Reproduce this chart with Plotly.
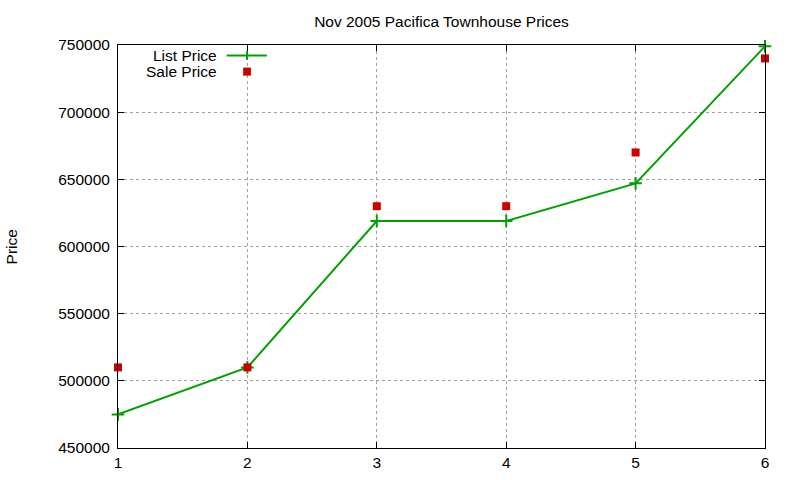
import plotly.graph_objects as go

# Pacifica townhouse sales, Nov 2005
listing = [1, 2, 3, 4, 5, 6]
list_price = [475000, 510000, 619000, 619000, 647000, 749000]
sale_price = [510000, 510000, 630000, 630000, 670000, 740000]

y_ticks = [450000, 500000, 550000, 600000, 650000, 700000, 750000]

GREEN = "#00a000"
RED = "#cc0000"
FONT = "Liberation Sans, Arial, sans-serif"
FS = 15.5

fig = go.Figure()
fig.add_trace(go.Scatter(
    x=listing, y=list_price, mode="lines+markers", name="List Price",
    line=dict(color=GREEN, width=2),
    marker=dict(symbol="cross-thin", size=9, line=dict(color=GREEN, width=2)),
    cliponaxis=False,
))
fig.add_trace(go.Scatter(
    x=listing, y=sale_price, mode="markers", name="Sale Price",
    marker=dict(symbol="square", size=8, color=RED),
    cliponaxis=False,
))

# gnuplot-style key: label right-aligned, sample to its right
for label, ky in [("List Price", 0.974), ("Sale Price", 0.934)]:
    fig.add_annotation(xref="paper", yref="paper", x=0.155, y=ky, text=label,
                       showarrow=False, xanchor="right", yanchor="middle",
                       height=15, borderpad=0,
                       font=dict(family=FONT, size=FS, color="#000"))
fig.add_shape(type="line", xref="paper", yref="paper", x0=0.168, x1=0.230,
              y0=0.974, y1=0.974, line=dict(color=GREEN, width=2))
fig.add_shape(type="line", xref="paper", yref="paper", x0=0.1995, x1=0.1995,
              y0=0.963, y1=0.985, line=dict(color=GREEN, width=2))
fig.add_shape(type="rect", xref="paper", yref="paper", x0=0.1935, x1=0.2055,
              y0=0.924, y1=0.944, line=dict(width=0), fillcolor=RED)

# y label sits far out at the left edge, like gnuplot puts it
fig.add_annotation(xref="paper", yref="paper", x=-0.164, y=0.5, text="Price",
                   textangle=-90, showarrow=False, xanchor="center", yanchor="middle",
                   font=dict(family=FONT, size=FS, color="#000"))

axis_common = dict(
    showline=True, linecolor="black", linewidth=1, mirror="ticks",
    ticks="inside", ticklen=6, tickcolor="black",
    showgrid=True, gridcolor="#a0a0a0", griddash="dot", gridwidth=1,
    zeroline=False, automargin=False,
    tickfont=dict(family=FONT, size=FS, color="#000"),
)

fig.update_xaxes(range=[1, 6], tickvals=listing, **axis_common)
fig.update_yaxes(range=[450000, 750000], tickvals=y_ticks, tickformat="d",
                 ticklabelstandoff=4, **axis_common)

fig.update_layout(
    width=800, height=480,
    paper_bgcolor="white", plot_bgcolor="white",
    margin=dict(l=118, r=35, t=45, b=32),
    showlegend=False,
    title=dict(text="Nov 2005 Pacifica Townhouse Prices", x=0.5, xref="paper",
               y=0.955, yanchor="middle",
               font=dict(family=FONT, size=FS, color="#000")),
)

# drop the default 8px body margin so the chart sits at the window corner
fig.write_html("out.html", config={"displayModeBar": False},
               post_script="document.body.style.margin='0';")
